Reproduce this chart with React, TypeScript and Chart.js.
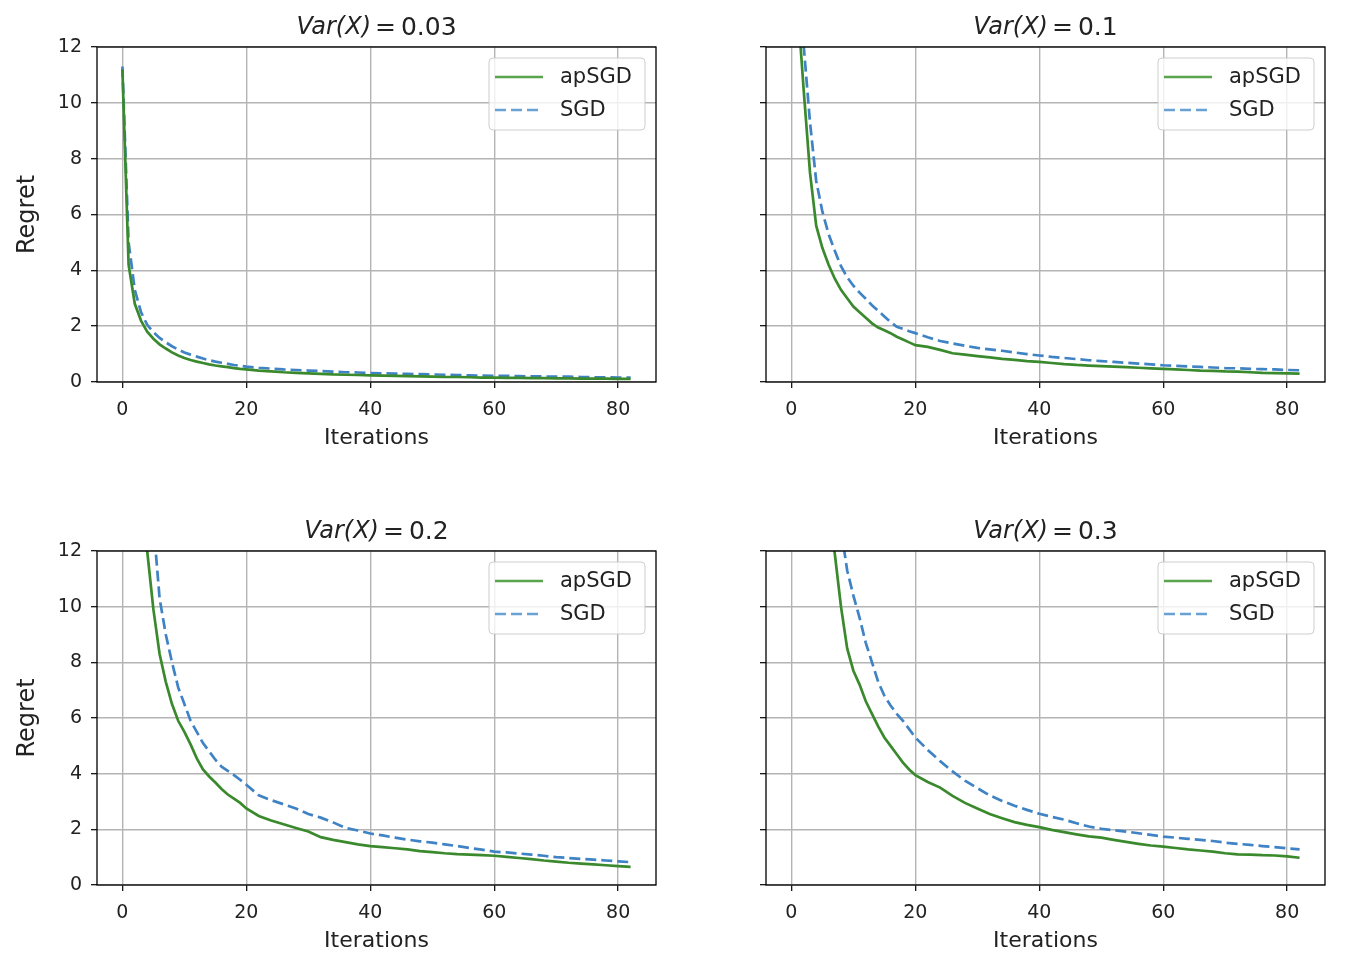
import React, { useEffect, useRef } from 'react';
import { Chart, registerables } from 'chart.js';

Chart.register(...registerables);

// ---------------- data ----------------
const ITERS = [
  0, 1, 2, 3, 4, 5, 6, 7, 8, 9, 10, 11, 12, 13, 14, 15, 16, 17, 18, 19, 20,
  22, 24, 26, 28, 30, 32, 34, 36, 38, 40, 42, 44, 46, 48, 50, 52, 54, 56, 58, 60,
  62, 64, 66, 68, 70, 72, 74, 76, 78, 80, 82,
];

const SERIES_NAMES = ['apSGD', 'SGD'];
const VAR_LABELS = ['0.03', '0.1', '0.2', '0.3'];
const X_TICKS = [0, 20, 40, 60, 80];
const Y_TICKS = [0, 2, 4, 6, 8, 10, 12];
const X_LABEL = 'Iterations';
const Y_LABEL = 'Regret';

const APSGD_003 = [
  11.2, 4.2, 2.8, 2.2, 1.8, 1.55, 1.35, 1.2, 1.06, 0.95, 0.86, 0.79, 0.73, 0.68, 0.63, 0.59, 0.56, 0.53, 0.5, 0.47, 0.45,
  0.41, 0.38, 0.35, 0.33, 0.31, 0.29, 0.27, 0.26, 0.25, 0.24, 0.23, 0.22, 0.21, 0.2, 0.19, 0.18, 0.18, 0.17, 0.16, 0.16,
  0.15, 0.15, 0.14, 0.14, 0.13, 0.13, 0.12, 0.12, 0.12, 0.11, 0.11,
];
const SGD_003 = [
  11.3, 5.0, 3.3, 2.5, 2.05, 1.78, 1.58, 1.42, 1.28, 1.16, 1.06, 0.98, 0.91, 0.84, 0.78, 0.73, 0.69, 0.65, 0.61, 0.58, 0.55,
  0.51, 0.48, 0.45, 0.43, 0.41, 0.39, 0.37, 0.35, 0.34, 0.32, 0.31, 0.3, 0.29, 0.28, 0.27, 0.26, 0.25, 0.24, 0.23, 0.22,
  0.22, 0.21, 0.2, 0.2, 0.19, 0.19, 0.18, 0.17, 0.17, 0.16, 0.16,
];

const APSGD_01 = [
  25, 13.5, 10.4, 7.5, 5.6, 4.8, 4.2, 3.7, 3.3, 3.0, 2.7, 2.5, 2.3, 2.1, 1.95, 1.85, 1.75, 1.62, 1.52, 1.42, 1.32,
  1.26, 1.15, 1.03, 0.98, 0.93, 0.88, 0.83, 0.79, 0.75, 0.72, 0.68, 0.64, 0.61, 0.59, 0.57, 0.55, 0.53, 0.51, 0.49, 0.47,
  0.45, 0.43, 0.41, 0.4, 0.38, 0.37, 0.35, 0.33, 0.32, 0.31, 0.3,
];
const SGD_01 = [
  35, 19, 12, 9.3, 7.2, 6.1, 5.3, 4.7, 4.15, 3.75, 3.45, 3.2, 2.98, 2.75, 2.55, 2.35, 2.15, 1.98, 1.9, 1.82, 1.75,
  1.6, 1.47, 1.38, 1.3, 1.22, 1.17, 1.12, 1.06, 1.0, 0.95, 0.9, 0.86, 0.82, 0.78, 0.75, 0.72, 0.69, 0.66, 0.63, 0.6,
  0.58, 0.56, 0.54, 0.52, 0.5, 0.49, 0.47, 0.46, 0.45, 0.43, 0.42,
];

const APSGD_02 = [
  30, 22, 17, 14, 12.0, 9.9, 8.3, 7.3, 6.5, 5.9, 5.5, 5.05, 4.55, 4.15, 3.9, 3.68, 3.45, 3.25, 3.1, 2.95, 2.75,
  2.48, 2.32, 2.18, 2.05, 1.92, 1.72, 1.62, 1.54, 1.46, 1.4, 1.36, 1.32, 1.28, 1.22, 1.18, 1.14, 1.11, 1.09, 1.07, 1.05,
  1.01, 0.97, 0.93, 0.88, 0.84, 0.8, 0.77, 0.74, 0.71, 0.68, 0.65,
];
const SGD_02 = [
  40, 30, 22, 17, 15, 13.0, 10.3, 9.0, 8.0, 7.1, 6.5, 5.9, 5.5, 5.1, 4.8, 4.5, 4.25, 4.1, 3.95, 3.78, 3.6,
  3.22, 3.05, 2.9, 2.75, 2.55, 2.42, 2.25, 2.05, 1.96, 1.85, 1.78, 1.7, 1.63, 1.57, 1.52, 1.46, 1.4, 1.33, 1.27, 1.2,
  1.17, 1.13, 1.09, 1.05, 1.0, 0.97, 0.94, 0.91, 0.88, 0.85, 0.82,
];

const APSGD_03 = [
  40, 32, 26, 21, 17.5, 15, 13.2, 11.9, 10.0, 8.5, 7.7, 7.2, 6.6, 6.15, 5.7, 5.3, 5.0, 4.7, 4.4, 4.15, 3.95,
  3.7, 3.5, 3.2, 2.95, 2.75, 2.55, 2.4, 2.26, 2.16, 2.08, 1.98, 1.9, 1.82, 1.75, 1.7, 1.62, 1.55, 1.48, 1.42, 1.38,
  1.33, 1.28, 1.24, 1.2, 1.14, 1.1, 1.09, 1.07, 1.06, 1.03, 0.98,
];
const SGD_03 = [
  50, 40, 32, 26, 21, 18, 15.5, 14.2, 12.8, 11.3, 10.4, 9.6, 8.7, 8.0, 7.3, 6.8, 6.45, 6.15, 5.9, 5.6, 5.3,
  4.85, 4.45, 4.08, 3.75, 3.48, 3.22, 3.02, 2.85, 2.7, 2.56, 2.45, 2.35, 2.22, 2.1, 2.02, 1.97, 1.92, 1.86, 1.8, 1.74,
  1.7, 1.66, 1.62, 1.58, 1.52, 1.48, 1.44, 1.4, 1.36, 1.32, 1.28,
];

const PANEL_SERIES = [
  [APSGD_003, SGD_003],
  [APSGD_01, SGD_01],
  [APSGD_02, SGD_02],
  [APSGD_03, SGD_03],
];

// ---------------- styles ----------------
const FONT = "'DejaVu Sans', sans-serif";
const TEXT = '#222222';
const GRID = '#b4b4b4';
const LINE_COLORS = ['#3a8a2d', '#3f83c5'];
const LEGEND_COLORS = ['#5aa54c', '#68a2d4'];
const DASHES: number[][] = [[], [11, 5]];

type Layout = {
  left: number; top: number; width: number; height: number;
  yWidth: number; showY: boolean;
  pad: { left: number; right: number; top: number; bottom: number };
};

const LAYOUTS: Layout[] = [
  { left: 0, top: 0, width: 677, height: 484, yWidth: 97, showY: true, pad: { left: 0, right: 21, top: 47, bottom: 22 } },
  { left: 677, top: 0, width: 677, height: 484, yWidth: 89, showY: false, pad: { left: 0, right: 29, top: 47, bottom: 22 } },
  { left: 0, top: 484, width: 677, height: 484, yWidth: 97, showY: true, pad: { left: 0, right: 21, top: 67, bottom: 3 } },
  { left: 677, top: 484, width: 677, height: 484, yWidth: 89, showY: false, pad: { left: 0, right: 29, top: 67, bottom: 3 } },
];

const framePlugin = {
  id: 'frameLegend',
  afterDatasetsDraw(chart: any) {
    const { ctx, chartArea } = chart;
    const { left, right, top, bottom } = chartArea;
    ctx.save();
    ctx.strokeStyle = '#000';
    ctx.lineWidth = 1.3;
    ctx.setLineDash([]);
    ctx.strokeRect(left, top, right - left, bottom - top);

    // legend
    const bw = 156, bh = 72;
    const bx = right - 11 - bw;
    const by = top + 11;
    ctx.beginPath();
    (ctx as any).roundRect(bx, by, bw, bh, 4);
    ctx.fillStyle = 'rgba(255,255,255,0.8)';
    ctx.fill();
    ctx.strokeStyle = 'rgba(200,200,200,0.9)';
    ctx.lineWidth = 1;
    ctx.stroke();
    chart.data.datasets.forEach((ds: any, i: number) => {
      const y = by + 19 + i * 33;
      ctx.beginPath();
      ctx.setLineDash(DASHES[i]);
      ctx.strokeStyle = LEGEND_COLORS[i];
      ctx.lineWidth = 2.7;
      ctx.moveTo(bx + 6, y);
      ctx.lineTo(bx + 54, y);
      ctx.stroke();
      ctx.setLineDash([]);
      ctx.fillStyle = TEXT;
      ctx.font = `21px ${FONT}`;
      ctx.textBaseline = 'middle';
      ctx.textAlign = 'left';
      ctx.fillText(ds.label, bx + 71, y + 1);
    });
    ctx.restore();
  },
  afterDraw(chart: any) {
    const { ctx, chartArea } = chart;
    const varText: string = chart.options.plugins.varTitle.value;
    const cx = (chartArea.left + chartArea.right) / 2;
    const cy = chartArea.top - 19;
    ctx.save();
    ctx.fillStyle = TEXT;
    ctx.textBaseline = 'middle';
    ctx.textAlign = 'left';
    const italicFont = `italic 24px ${FONT}`;
    const normalFont = `25px ${FONT}`;
    const p1 = 'Var(X)';
    const p2 = '=';
    const p3 = varText;
    ctx.font = italicFont;
    const w1 = ctx.measureText(p1).width;
    ctx.font = normalFont;
    const w2 = ctx.measureText(p2).width;
    const w3 = ctx.measureText(p3).width;
    const gap1 = 4;
    const gap2 = 5;
    const total = w1 + gap1 + w2 + gap2 + w3;
    let x = cx - total / 2;
    ctx.font = italicFont;
    ctx.fillText(p1, x, cy);
    x += w1 + gap1;
    ctx.font = normalFont;
    ctx.fillText(p2, x, cy);
    x += w2 + gap2;
    ctx.fillText(p3, x, cy);
    ctx.restore();
  },
};

function Panel({ index }: { index: number }) {
  const ref = useRef<HTMLCanvasElement | null>(null);
  const lay = LAYOUTS[index];
  useEffect(() => {
    if (!ref.current) return;
    const series = PANEL_SERIES[index];
    const chart = new Chart(ref.current, {
      type: 'line',
      data: {
        datasets: series.map((vals, i) => ({
          label: SERIES_NAMES[i],
          data: ITERS.map((x, k) => ({ x, y: vals[k] })),
          borderColor: LINE_COLORS[i],
          backgroundColor: LINE_COLORS[i],
          borderWidth: 2.7,
          borderDash: DASHES[i],
          pointRadius: 0,
          tension: 0,
          fill: false,
        })),
      },
      options: {
        animation: false,
        responsive: false,
        devicePixelRatio: 1,
        events: [],
        layout: { padding: lay.pad },
        plugins: {
          legend: { display: false },
          tooltip: { enabled: false },
          title: { display: false },
          varTitle: { value: VAR_LABELS[index] },
        } as any,
        scales: {
          x: {
            type: 'linear',
            min: -4.1,
            max: 86.1,
            afterBuildTicks: (s: any) => { s.ticks = X_TICKS.map((v) => ({ value: v })); },
            afterFit: (s: any) => { s.height = 80; s.paddingLeft = 0; s.paddingRight = 0; },
            border: { display: false },
            grid: { color: GRID, lineWidth: 1.4, tickColor: '#000', tickLength: 6, tickWidth: 1.2 },
            ticks: { font: { family: FONT, size: 19 }, color: TEXT, padding: 11, maxRotation: 0, autoSkip: false },
            title: { display: true, text: X_LABEL, font: { family: FONT, size: 22 }, color: TEXT, padding: { top: 0, bottom: 11 } },
          },
          y: {
            type: 'linear',
            min: 0,
            max: 12,
            afterBuildTicks: (s: any) => { s.ticks = Y_TICKS.map((v) => ({ value: v })); },
            afterFit: (s: any) => { s.width = lay.yWidth; s.paddingTop = 0; s.paddingBottom = 0; },
            border: { display: false },
            grid: { color: GRID, lineWidth: 1.4, tickColor: '#000', tickLength: 6, tickWidth: 1.2 },
            ticks: { display: lay.showY, font: { family: FONT, size: 19 }, color: TEXT, padding: 9 },
            title: { display: lay.showY, text: Y_LABEL, font: { family: FONT, size: 24 }, color: TEXT, padding: { top: 13, bottom: 0 } },
          },
        },
      } as any,
      plugins: [framePlugin],
    });
    return () => chart.destroy();
  }, [index]);
  return (
    <canvas
      ref={ref}
      width={lay.width}
      height={lay.height}
      style={{ position: 'absolute', left: lay.left, top: lay.top, width: lay.width, height: lay.height }}
    />
  );
}

export default function App() {
  return (
    <div style={{ position: 'fixed', left: 0, top: 0, width: 1354, height: 968, background: '#fff' }}>
      {LAYOUTS.map((_, i) => (
        <Panel key={i} index={i} />
      ))}
    </div>
  );
}
